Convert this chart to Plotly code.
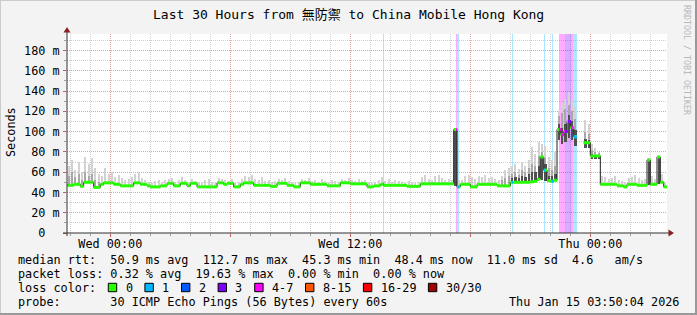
import pandas as pd
import plotly.graph_objects as go

# ---------------- data ----------------
TITLE = "Last 30 Hours from 無防禦 to China Mobile Hong Kong"
START = pd.Timestamp("2026-01-13 21:50:04")
END = pd.Timestamp("2026-01-15 03:50:04")
STEP = pd.Timedelta(minutes=10)
N = None

# median rtt per 10-minute bin (ms)
median_ms = [
    47, 47, 48, 48, 46, 50, 50, 50, 45, 45,
    48, 49.5, 49.5, 49.5, 48, 48, 46.5, 46.5, 46.5, 46.5,
    49.5, 49.5, 48, 48, 46.5, 45.5, 45.5, 45.5, 46.5, 46.5,
    49, 49, 46.5, 46.5, 49, 49, 46.5, 49, 49, 45.5,
    45.5, 45.5, 45.5, 45.5, 45.5, 49.5, 49.5, 48, 49, 49,
    45.5, 45.5, 48, 49.5, 49.5, 49.5, 47, 47, 47, 47,
    47, 46, 46, 49, 49, 49, 47, 47, 45.5, 45.5,
    49.5, 49.5, 49.5, 48, 48, 48, 48, 48, 46.5, 46.5,
    46.5, 46.5, 49.5, 49.5, 49.5, 48.5, 48.5, 48.5, 48.5, 48.5,
    45.5, 45.5, 46.5, 46.5, 48, 47, 47, 47, 47, 47,
    47, 47, 46, 46, 46, 46, 48.5, 48.5, 48.5, 48.5,
    48.5, 48.5, 48.5, 48.5, 48.5, 48.5, 102, 45.5, 48, 48,
    48, 45.5, 45.5, 48, 48, 48, 48, 48, 48, 46.5,
    46.5, 46.5, 46.5, 50, 50, 50, 50, 50, 50, 50.5,
    51, 53, 75, 62, 51.5, 51, 52, 102, 97, 100,
    110, 104, 95, N, N, 89, 89, 76, 76, 76,
    48, 48, 48, 48, 48, 46.5, 46.5, 45.5, 48, 48,
    48, 47, 47, 47, 72, 48, 48, 75, 50, 45.5,
]

# highest ping per bin (light smoke top)
smoke_max = [
    66, 72, 62, 70, 60, 75, 68, 74, 64, 58,
    56, 64, 58, 60, 55, 57, 54, 52, 53, 55,
    58, 60, 54, 52, 50, 49, 51, 52, 50, 52,
    53, 54, 50, 52, 55, 52, 50, 53, 51, 50,
    49, 52, 53, 50, 49, 54, 53, 52, 51, 53,
    49, 50, 53, 56, 55, 57, 53, 52, 55, 51,
    52, 50, 51, 53, 52, 54, 51, 50, 49, 50,
    53, 52, 54, 51, 52, 50, 53, 51, 50, 52,
    51, 50, 53, 52, 54, 52, 51, 53, 51, 52,
    50, 49, 50, 52, 55, 51, 53, 50, 52, 51,
    50, 49, 51, 50, 49, 50, 55, 57, 53, 52,
    56, 57, 54, 52, 53, 52, 104, 52, 52, 56,
    57, 55, 53, 56, 55, 57, 54, 55, 53, 52,
    56, 62, 64, 66, 68, 63, 70, 66, 72, 85,
    78, 90, 88, 86, 75, 72, 80, 120, 128, 132,
    139, 130, 124, N, N, 111, 108, 88, 84, 80,
    56, 55, 53, 54, 56, 52, 51, 50, 54, 55,
    57, 54, 52, 53, 74, 56, 53, 76, 58, 50,
]

# upper edge of the medium-grey smoke
smoke_mid = [
    56, 60, 55, 58, 52, 60, 56, 58, 52, 50,
    N, N, N, N, N, N, N, N, N, N,
    N, N, N, N, N, N, N, N, N, N,
    N, N, N, N, N, N, N, N, N, N,
    N, N, N, N, N, N, N, N, N, N,
    N, N, N, N, N, N, N, N, N, N,
    N, N, N, N, N, N, N, N, N, N,
    N, N, N, N, N, N, N, N, N, N,
    N, N, N, N, N, N, N, N, N, N,
    N, N, N, N, N, N, N, N, N, N,
    N, N, N, N, N, N, N, N, N, N,
    N, N, N, N, N, N, 100, N, N, N,
    N, N, N, N, N, N, N, N, N, N,
    52, 54, 56, 58, 60, 57, 62, 60, 64, 68,
    66, 76, 80, 74, 64, 62, 66, 115, 118, 122,
    126, 120, 112, N, N, 100, 98, 82, 80, 79,
    N, N, N, N, N, N, N, N, N, N,
    N, N, N, N, 73, N, N, 76, N, N,
]

# upper edge of the dark smoke core
smoke_core = [
    N, N, N, N, N, N, N, N, N, N,
    N, N, N, N, N, N, N, N, N, N,
    N, N, N, N, N, N, N, N, N, N,
    N, N, N, N, N, N, N, N, N, N,
    N, N, N, N, N, N, N, N, N, N,
    N, N, N, N, N, N, N, N, N, N,
    N, N, N, N, N, N, N, N, N, N,
    N, N, N, N, N, N, N, N, N, N,
    N, N, N, N, N, N, N, N, N, N,
    N, N, N, N, N, N, N, N, N, N,
    N, N, N, N, N, N, N, N, N, N,
    N, N, N, N, N, N, 102, N, N, N,
    N, N, N, N, N, N, N, N, N, N,
    N, N, N, 54, 55, 54, 56, 55, 58, 60,
    60, 66, 76, 68, 56, 56, 58, 108, 104, 108,
    116, 110, 102, N, N, 93, 92, 78, 77, 77,
    N, N, N, N, N, N, N, N, N, N,
    N, N, N, N, 72, N, N, 75, N, N,
]

# lowest ping where it sits clearly below the median
smoke_min = [
    N, N, N, N, N, N, N, N, N, N,
    N, N, N, N, N, N, N, N, N, N,
    N, N, N, N, N, N, N, N, N, N,
    N, N, N, N, N, N, N, N, N, N,
    N, N, N, N, N, N, N, N, N, N,
    N, N, N, N, N, N, N, N, N, N,
    N, N, N, N, N, N, N, N, N, N,
    N, N, N, N, N, N, N, N, N, N,
    N, N, N, N, N, N, N, N, N, N,
    N, N, N, N, N, N, N, N, N, N,
    N, N, N, N, N, N, N, N, N, N,
    N, N, N, N, N, N, 46, N, N, N,
    N, N, N, N, N, N, N, N, N, N,
    N, N, N, N, N, N, N, N, N, N,
    N, N, 52, 51, N, N, N, 92, 88, 90,
    94, 92, 86, N, N, 84, 84, 73, 73, 73,
    N, N, N, N, N, N, N, N, N, N,
    N, N, N, N, 47, N, N, 48, N, N,
]

# packet-loss events (3-minute slots) and lost pings out of 30
loss_times = [
    "2026-01-14 13:38", "2026-01-14 17:17", "2026-01-14 17:21", "2026-01-14 17:24",
    "2026-01-14 20:05", "2026-01-14 21:41", "2026-01-14 22:05",
    "2026-01-14 22:26", "2026-01-14 22:29", "2026-01-14 22:32", "2026-01-14 22:35",
    "2026-01-14 22:38", "2026-01-14 22:41", "2026-01-14 22:44", "2026-01-14 22:47",
    "2026-01-14 22:50", "2026-01-14 22:53", "2026-01-14 22:56", "2026-01-14 22:59",
    "2026-01-14 23:02", "2026-01-14 23:05", "2026-01-14 23:08", "2026-01-14 23:11",
    "2026-01-14 23:14", "2026-01-14 23:17",
]
loss_counts = [
    1, 5, 1, 1,
    1, 1, 1,
    5, 5, 5, 6,
    4, 4, 3, 3,
    2, 3, 2, 3,
    4, 5, 1, 1,
    1, 1,
]

loss_labels = ["0", "1", "2", "3", "4-7", "8-15", "16-29", "30/30"]
loss_upper = [0, 1, 2, 3, 7, 15, 29, 30]
loss_colors = ["#26ff00", "#00b8ff", "#0059ff", "#7e00ff", "#ff00ff",
               "#ff5500", "#ff0000", "#a00000"]

ytick_vals = [0, 20, 40, 60, 80, 100, 120, 140, 160, 180]
xtick_vals = ["2026-01-14 00:00", "2026-01-14 06:00", "2026-01-14 12:00",
              "2026-01-14 18:00", "2026-01-15 00:00"]
xtick_text = ["Wed 00:00", "", "Wed 12:00", "", "Thu 00:00"]

row_rtt = "median rtt:  50.9 ms avg  112.7 ms max  45.3 ms min  48.4 ms now  11.0 ms sd  4.6   am/s"
row_loss = "packet loss: 0.32 % avg  19.63 % max  0.00 % min  0.00 % now"
row_color = "loss color:"
row_probe = "probe:       30 ICMP Echo Pings (56 Bytes) every 60s"
stamp = "Thu Jan 15 03:50:04 2026"
credit = "RRDTOOL / TOBI OETIKER"

# ---------------- layout constants ----------------
W, H = 697, 315
PL, PR, PT, PB = 67, 667, 34, 233
YMAX = (PB - PT) / 1.0138
MONO = "DejaVu Sans Mono, Noto Sans CJK TC, monospace"
CW = 7.1  # monospace advance at the legend font size


def px(x):
    return (x - PL) / (PR - PL)


def py(y):
    return (PB - y) / (PB - PT)


def rgba(hexc, a):
    h = hexc.lstrip("#")
    return "rgba(%d,%d,%d,%.2f)" % (int(h[0:2], 16), int(h[2:4], 16), int(h[4:6], 16), a)


def loss_class(c):
    for k, up in enumerate(loss_upper):
        if c <= up:
            return k
    return len(loss_upper) - 1


def nb(s):
    return s.replace(" ", "\u00a0")


nbins = len(median_ms)
bin_start = [START + STEP * i for i in range(nbins)]
bin_mid = [b + STEP / 2 for b in bin_start]

fig = go.Figure()

# loss background bars
ev_t = [pd.Timestamp(t) for t in loss_times]
SLOT = pd.Timedelta(minutes=3)
for k in range(1, len(loss_labels)):
    xs = [t + SLOT / 2 for t, c in zip(ev_t, loss_counts) if loss_class(c) == k]
    if not xs:
        continue
    fig.add_trace(go.Bar(x=xs, y=[YMAX] * len(xs), base=0,
                         width=SLOT.total_seconds() * 1000,
                         marker=dict(color=rgba(loss_colors[k], 0.33), line=dict(width=0)),
                         hoverinfo="skip"))


# smoke bands
def band(tops, color, minutes):
    xs, bases, hs = [], [], []
    for i, top in enumerate(tops):
        m = median_ms[i]
        if top is None or m is None:
            continue
        lo = smoke_min[i] if smoke_min[i] is not None else m - 1
        xs.append(bin_mid[i])
        bases.append(lo)
        hs.append(top - lo)
    fig.add_trace(go.Bar(x=xs, y=hs, base=bases, width=minutes * 60000,
                         marker=dict(color=color, line=dict(width=0)), hoverinfo="skip"))


band(smoke_max, "#d2d2d2", 4)
band(smoke_mid, "#a8a8a8", 6)
band(smoke_core, "#505050", 7)

# thin dark median line (shows the vertical steps)
lx, ly = [], []
for i, m in enumerate(median_ms):
    if m is None:
        lx.append(None)
        ly.append(None)
        continue
    lx += [bin_start[i], bin_start[i] + STEP]
    ly += [m, m]
fig.add_trace(go.Scatter(x=lx, y=ly, mode="lines", line=dict(color="#202020", width=1),
                         hoverinfo="skip"))

# thick loss-coloured horizontal segments
gx, gy = [], []
for i, m in enumerate(median_ms):
    if m is None:
        continue
    gx += [bin_start[i], bin_start[i] + STEP, None]
    gy += [m, m, None]
fig.add_trace(go.Scatter(x=gx, y=gy, mode="lines", line=dict(color=loss_colors[0], width=3),
                         hoverinfo="skip"))
for k in range(1, len(loss_labels)):
    sx, sy = [], []
    for t, c in zip(ev_t, loss_counts):
        if loss_class(c) != k:
            continue
        i = int((t - START) / STEP)
        if 0 <= i < nbins and median_ms[i] is not None:
            sx += [t, t + SLOT, None]
            sy += [median_ms[i], median_ms[i], None]
    if sx:
        fig.add_trace(go.Scatter(x=sx, y=sy, mode="lines",
                                 line=dict(color=loss_colors[k], width=3), hoverinfo="skip"))

# ---------------- decorations ----------------
GRID_MAJ = "#e3a3a3"
GRID_MIN = "#cfcfcf"
ARROW = "#8a2020"
AXIS = "#303030"

shapes = [
    dict(type="line", xref="paper", yref="paper", x0=px(63), x1=px(670), y0=0, y1=0,
         line=dict(color=AXIS, width=1)),
    dict(type="line", xref="paper", yref="paper", x0=0, x1=0, y0=py(236), y1=py(31),
         line=dict(color=AXIS, width=1)),
    dict(type="path", xref="paper", yref="paper",
         path="M %f %f L %f %f L %f %f Z" % (px(674), py(233), px(668.5), py(229.5), px(668.5), py(236.5)),
         fillcolor=ARROW, line=dict(width=0)),
    dict(type="path", xref="paper", yref="paper",
         path="M %f %f L %f %f L %f %f Z" % (px(67), py(27), px(63.5), py(32.5), px(70.5), py(32.5)),
         fillcolor=ARROW, line=dict(width=0)),
    dict(type="line", xref="paper", yref="paper", x0=px(0), x1=px(697), y0=py(0.5), y1=py(0.5),
         line=dict(color="#cbcbcb", width=1)),
    dict(type="line", xref="paper", yref="paper", x0=px(0.5), x1=px(0.5), y0=py(0), y1=py(315),
         line=dict(color="#cbcbcb", width=1)),
    dict(type="line", xref="paper", yref="paper", x0=px(0), x1=px(697), y0=py(314), y1=py(314),
         line=dict(color="#999999", width=2)),
    dict(type="line", xref="paper", yref="paper", x0=px(696), x1=px(696), y0=py(0), y1=py(315),
         line=dict(color="#999999", width=2)),
]


def note(text, x, y, size=11.8, xanchor="left", angle=0, color="#000"):
    return dict(text=text, x=px(x), y=py(y), xref="paper", yref="paper",
                xanchor=xanchor, yanchor="middle", textangle=angle, showarrow=False,
                font=dict(family=MONO, size=size, color=color))


annotations = [
    note(TITLE, 348, 15, size=13, xanchor="center"),
    note("Seconds", 11, 132, xanchor="center", angle=-90),
    note(nb(credit), 687, 60, size=8.3, xanchor="center", angle=90, color="#b8b8b8"),
    note(nb(row_rtt), 16, 259.5),
    note(nb(row_loss), 16, 273.5),
    note(nb(row_color), 16, 287.5),
    note(nb(row_probe), 16, 301.5),
    note(nb(stamp), 681, 301.5, xanchor="right"),
]

bx = 108.3
for lab, col in zip(loss_labels, loss_colors):
    shapes.append(dict(type="rect", xref="paper", yref="paper",
                       x0=px(bx), x1=px(bx + 8.4), y0=py(291.7), y1=py(283.3),
                       fillcolor=col, line=dict(color="#000", width=1)))
    lx0 = bx + 15.3
    annotations.append(note(nb(lab), lx0, 287.5))
    bx = lx0 + len(lab) * CW + 2 * CW

ytick_text = [nb("0  ")] + [nb("%d m" % v) for v in ytick_vals[1:]]

fig.update_layout(
    width=W, height=H,
    margin=dict(l=PL, r=W - PR, t=PT, b=H - PB, pad=0),
    paper_bgcolor="#f3f3f3", plot_bgcolor="#ffffff",
    barmode="overlay", bargap=0, showlegend=False, hovermode=False,
    shapes=shapes, annotations=annotations,
    xaxis=dict(type="date", range=[START, END], tickmode="array",
               tickvals=xtick_vals, ticktext=xtick_text,
               ticks="outside", ticklen=3, tickcolor="#c06060",
               showgrid=True, gridcolor=GRID_MAJ, griddash="1px,1px", gridwidth=1,
               minor=dict(dtick=3600000, tick0="2026-01-14 00:00", showgrid=True,
                          gridcolor=GRID_MIN, griddash="1px,1px", gridwidth=1,
                          ticks="outside", ticklen=2, tickcolor="#a0a0a0"),
               showline=False, zeroline=False, ticklabelstandoff=-3,
               tickfont=dict(family=MONO, size=11.8, color="#000"), fixedrange=True),
    yaxis=dict(range=[0, YMAX], tickmode="array", tickvals=ytick_vals, ticktext=ytick_text,
               ticks="outside", ticklen=3, tickcolor="#c06060",
               showgrid=True, gridcolor=GRID_MAJ, griddash="1px,1px", gridwidth=1,
               minor=dict(dtick=10, tick0=0, showgrid=True, gridcolor=GRID_MIN,
                          griddash="1px,1px", gridwidth=1, ticks="outside", ticklen=2,
                          tickcolor="#a0a0a0"),
               showline=False, zeroline=False, ticklabelstandoff=1,
               tickfont=dict(family=MONO, size=11.8, color="#000"), fixedrange=True),
)

fig.write_html("out.html", include_plotlyjs=True, config={"displayModeBar": False})
